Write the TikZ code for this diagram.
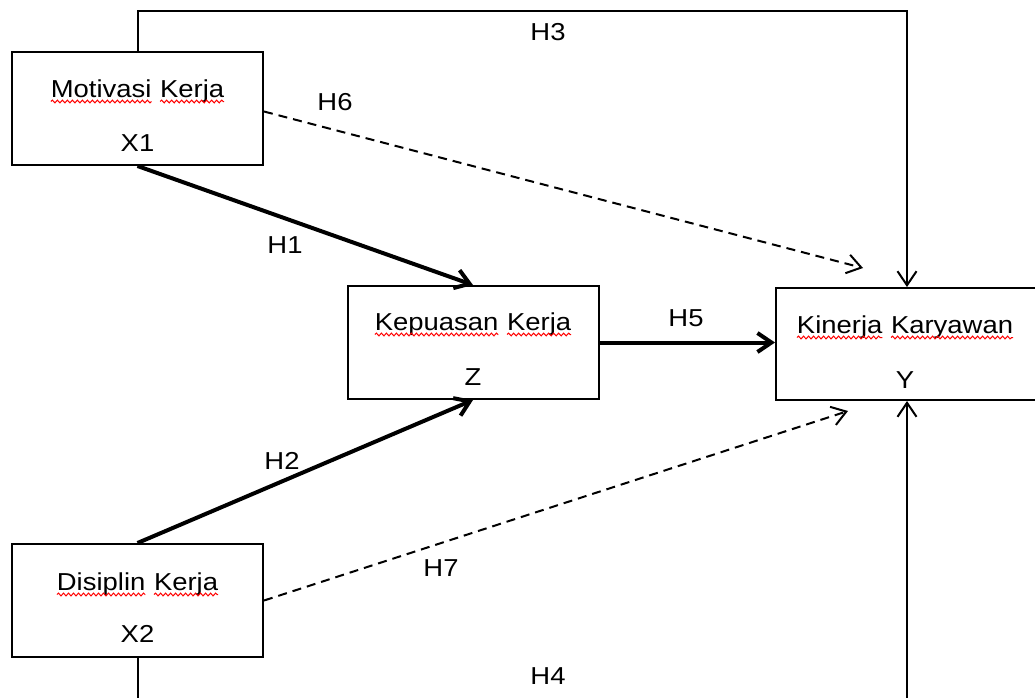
\documentclass[tikz,border=0pt]{standalone}
\usepackage{fontspec}
\setmainfont[FakeStretch=1.12]{Liberation Sans}
\usetikzlibrary{arrows.meta,decorations.pathmorphing}

% red spelling squiggle under one word
\newcommand\redwave[1]{\tikz[baseline=(w.base)]{\node[inner sep=0pt, outer sep=0pt] (w) {#1};
	\draw[red, line width=1pt, decorate, decoration={snake, amplitude=1.4pt, segment length=5pt}]
		([yshift=-4.5pt]w.base west) -- ([yshift=-4.5pt]w.base east);}}

\tikzset{
	var/.style={draw, line width=2pt, minimum width=251pt, minimum height=113pt, inner sep=0pt},
	txt/.style={anchor=base, inner sep=0pt, font=\fontsize{24.5}{29}\selectfont},
	hyp/.style={inner sep=0pt, font=\fontsize{24.5}{29}\selectfont},
	direct/.style={line width=2pt, -{Straight Barb[length=14pt,width=19pt]}},
	strong/.style={line width=4pt, -{Straight Barb[length=14pt,width=19pt]}},
	indirect/.style={direct, dash pattern=on 9pt off 6pt},
}

\begin{document}
\begin{tikzpicture}[x=1pt, y=-1pt]
			\useasboundingbox (0,0) rectangle (1035,697);
			\clip (0,0) rectangle (1035,697);

			\node[var] (x1) at (137.5,108.5) {};
			\node[var] (z)  at (473,342.5)   {};
			\node[var, minimum width=262pt, minimum height=112pt] (y) at (907,344) {};
			\node[var] (x2) at (137.5,600.5) {};

			\node[txt] (x1t) at ([yshift=11.5pt]x1.center)  {\redwave{Motivasi} \redwave{Kerja}};
			\node[txt] (x1i) at ([yshift=-43pt]x1.center)   {X1};
			\node[txt] (zt)  at ([yshift=12.5pt]z.center)   {\redwave{Kepuasan} \redwave{Kerja}};
			\node[txt] (zi)  at ([yshift=-42.5pt]z.center)  {Z};
			\node[txt] (yt)  at ([xshift=-2pt,yshift=11pt]y.center) {\redwave{Kinerja} \redwave{Karyawan}};
			\node[txt] (yi)  at ([xshift=-2pt,yshift=-44pt]y.center) {Y};
			\node[txt] (x2t) at ([yshift=10.5pt]x2.center)  {\redwave{Disiplin} \redwave{Kerja}};
			\node[txt] (x2i) at ([yshift=-41.5pt]x2.center) {X2};

			% free ends of the dashed paths
			\coordinate (h6end) at (863,268);
			\coordinate (h7end) at (848,411);

			\draw[strong] (x1.south) -- (z.north) node[hyp] at (285,245) {H1};
			\draw[strong] (x2.north) -- (z.south) node[hyp] at (282,461) {H2};
			\draw[strong] (z.east) -- (z.east -| y.west) node[hyp] at (686,318) {H5};

			\draw[direct] (x1.north) -- ++(0,-40) -| (y.north) node[hyp] at (548,32) {H3};
			\draw[direct] (x2.south) -- ++(0,60) -| (y.south) node[hyp] at (548,676) {H4};

			\draw[indirect] ([yshift=-3pt]x1.east) -- (h6end) node[hyp] at (335,102) {H6};
			\draw[indirect] (x2.east) -- (h7end) node[hyp] at (441,568) {H7};
\end{tikzpicture}
\end{document}
